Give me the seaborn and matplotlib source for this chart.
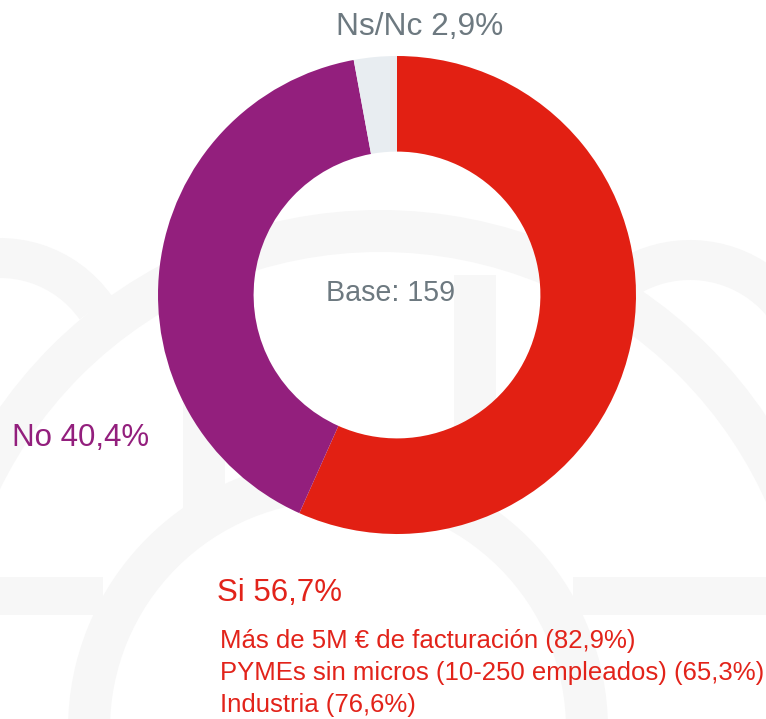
import matplotlib
matplotlib.use("Agg")
import matplotlib.pyplot as plt
from matplotlib.patches import Annulus, Rectangle, Wedge
import seaborn as sns

# Datos
labels = ["Si", "No", "Ns/Nc"]
values = [56.7, 40.4, 2.9]
colors = ["#E22013", "#931F7D", "#E8EDF1"]
base_n = 159
si_details = [
    "Más de 5M € de facturación (82,9%)",
    "PYMEs sin micros (10-250 empleados) (65,3%)",
    "Industria (76,6%)",
]

sns.set_theme(style="white")
plt.rcParams["font.family"] = ["Liberation Sans", "DejaVu Sans"]

W, H = 766, 719
fig = plt.figure(figsize=(W / 100, H / 100), dpi=100)


def fx(x):
    return x / W


def fy(y):
    return 1 - y / H


# Marca de agua de fondo (logo difuminado), coordenadas en pixeles, y hacia abajo
bg = fig.add_axes([0, 0, 1, 1], zorder=0)
bg.set_xlim(0, W)
bg.set_ylim(H, 0)
bg.axis("off")
wm = "#F7F7F7"
bg.add_patch(Wedge((0, 375), 137, 250, 325, width=40, color=wm, lw=0))
bg.add_patch(Wedge((690, 380), 140, 205, 340, width=40, color=wm, lw=0))
bg.add_patch(Annulus((380, 675), 465, 42, color=wm, lw=0))
bg.add_patch(Annulus((338, 729), 270, 42, color=wm, lw=0))
bg.add_patch(Rectangle((0, 577), 103, 38, color=wm, lw=0))
bg.add_patch(Rectangle((573, 577), 193, 38, color=wm, lw=0))
bg.add_patch(Rectangle((183, 400), 42, 123, color=wm, lw=0))
bg.add_patch(Rectangle((454, 275), 42, 248, color=wm, lw=0))

# Donut
cx, cy, R = 397, 295, 239
ax = fig.add_axes([fx(cx - R), (H - cy - R) / H, 2 * R / W, 2 * R / H], zorder=1)
ax.pie(values, colors=colors, startangle=90, counterclock=False, radius=1,
       wedgeprops=dict(width=0.4, linewidth=0))
ax.set_xlim(-1, 1)
ax.set_ylim(-1, 1)
ax.set_aspect("equal")
ax.patch.set_visible(False)

fmt = lambda lab, v: f"{lab} {v:.1f}%".replace(".", ",")

fig.text(fx(420), fy(27), fmt(labels[2], values[2]), color="#6D7980",
         fontsize=22.8, ha="center", va="center", zorder=3)
fig.text(fx(12), fy(438), fmt(labels[1], values[1]), color="#931F7D",
         fontsize=22.5, ha="left", va="center", zorder=3)
fig.text(fx(217), fy(593), fmt(labels[0], values[0]), color="#E2231A",
         fontsize=22.5, ha="left", va="center", zorder=3)
fig.text(fx(391), fy(293), f"Base: {base_n}", color="#6D7980",
         fontsize=20.6, ha="center", va="center", zorder=3)

for i, line in enumerate(si_details):
    fig.text(fx(220), fy(641 + 32 * i), line, color="#E2231A",
             fontsize=18.5, ha="left", va="center", zorder=3)

fig.savefig("out.png", dpi=100, facecolor="white")
